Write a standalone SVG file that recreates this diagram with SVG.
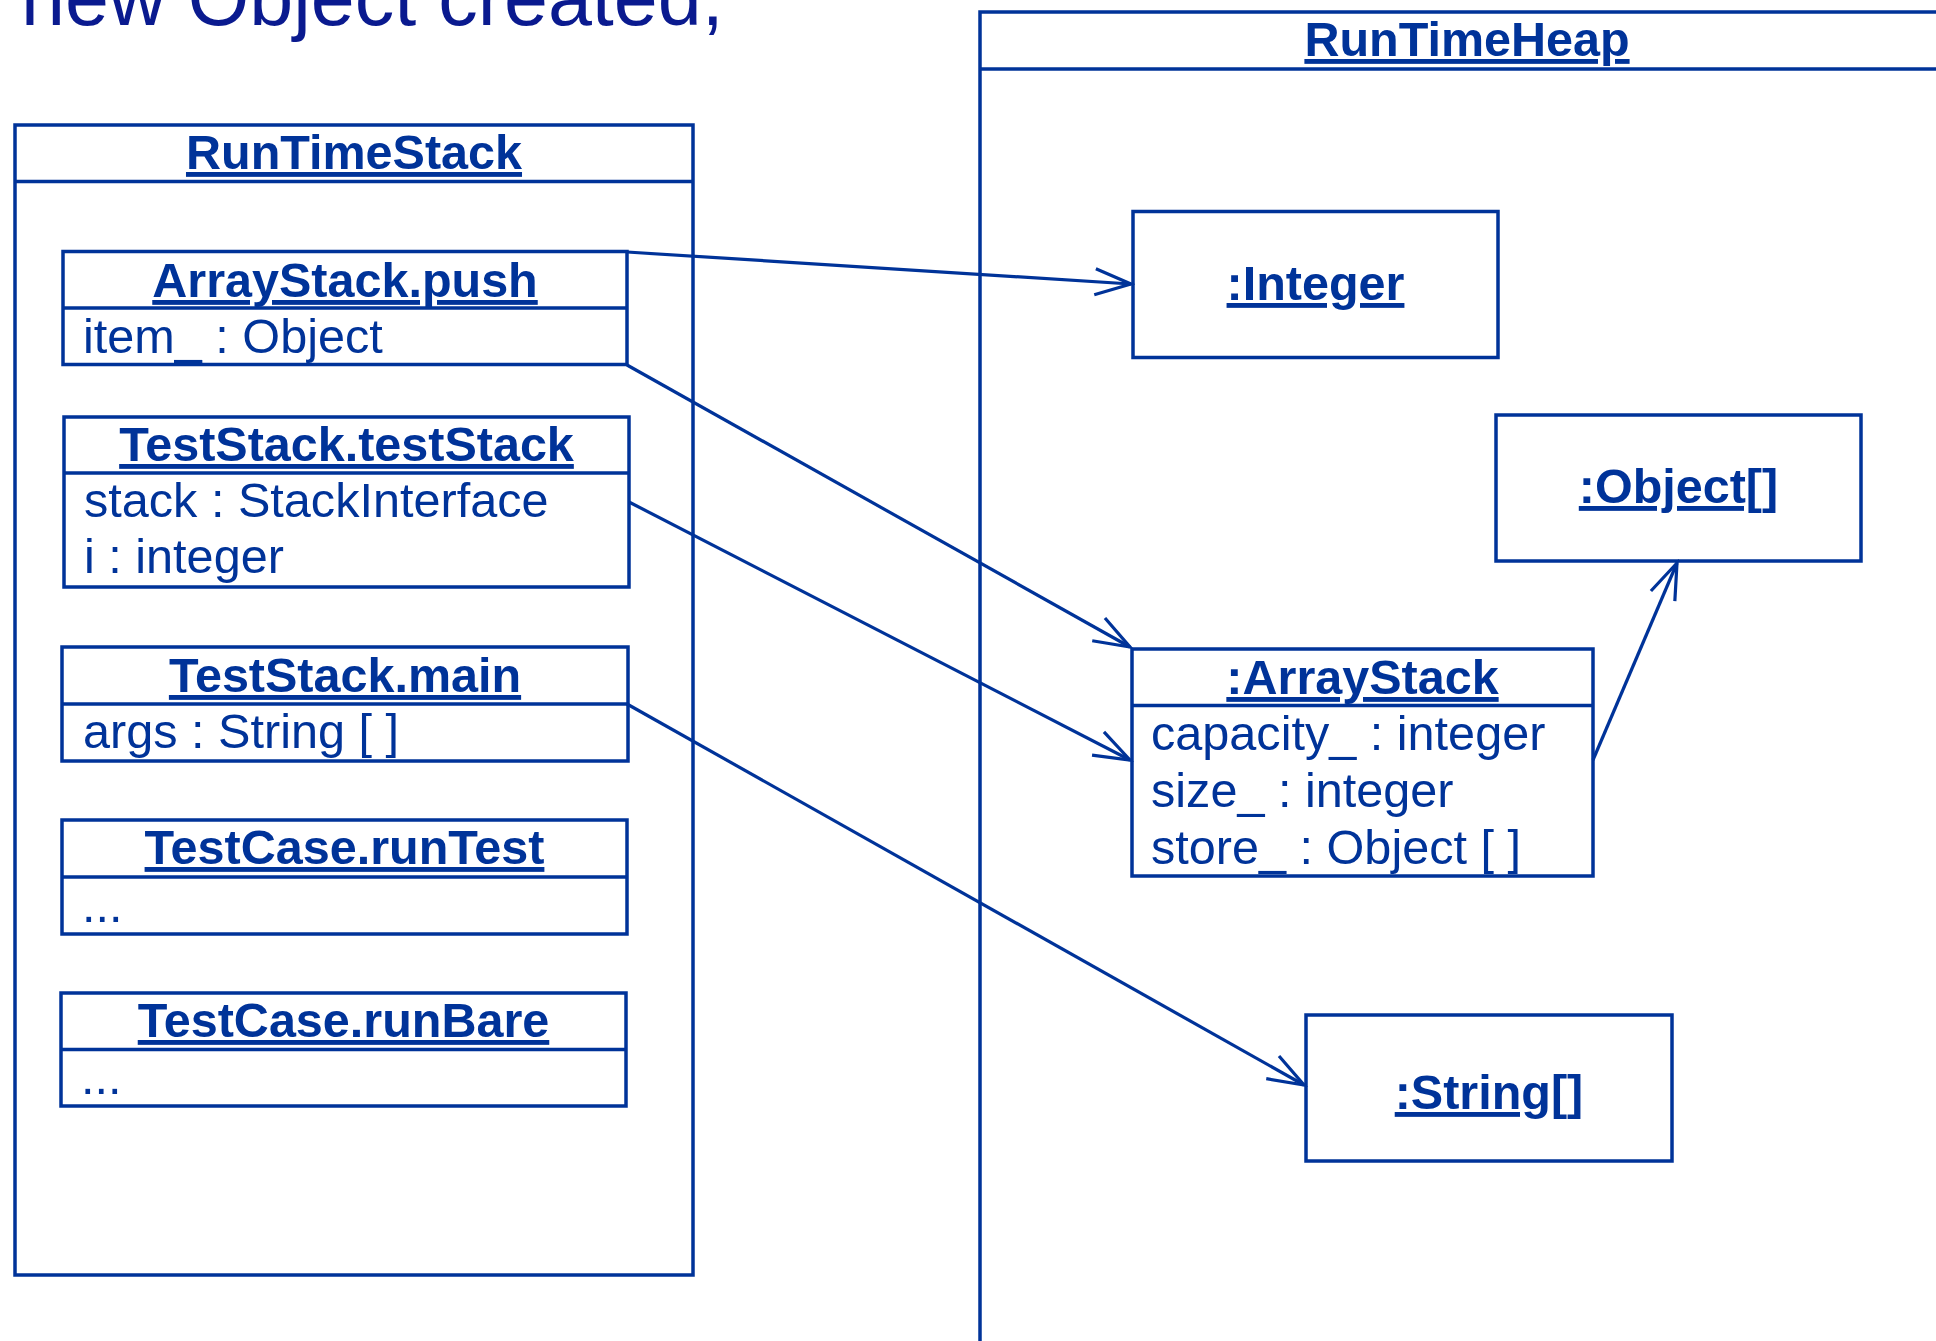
<svg xmlns="http://www.w3.org/2000/svg" width="1936" height="1341" viewBox="0 0 1936 1341">
<style>
.box{fill:#ffffff;stroke:#003399;stroke-width:3.5}
.div{stroke:#003399;stroke-width:3.5}
.ttl{font-family:"Liberation Sans",Arial,sans-serif;font-size:48.5px;font-weight:bold;fill:#003399;text-anchor:middle;text-decoration:underline}
.att{font-family:"Liberation Sans",Arial,sans-serif;font-size:48.6px;fill:#003399}
.hd{font-family:"Liberation Sans",Arial,sans-serif;font-size:79px;fill:#0a1a8f}
.con{fill:none;stroke:#003399;stroke-width:3.2}
</style>
<defs>
<marker id="open" markerUnits="userSpaceOnUse" viewBox="-42 -20 46 40" refX="0" refY="0" markerWidth="46" markerHeight="40" orient="auto">
<path d="M -36 -13 L 0 0 L -36 13" fill="none" stroke="#003399" stroke-width="3.2"/>
</marker>
</defs>
<rect width="1936" height="1341" fill="#ffffff"/>
<text class="hd" x="21" y="25">new Object created,</text>

<g id="RunTimeStack">
<rect class="box" x="15" y="125" width="678" height="1150"/>
<line class="div" x1="15" y1="181.5" x2="693" y2="181.5"/>
<text class="ttl" x="354" y="169">RunTimeStack</text>
</g>

<g id="RunTimeHeap">
<rect class="box" x="980" y="12" width="1000" height="1400"/>
<line class="div" x1="980" y1="69" x2="1980" y2="69"/>
<text class="ttl" x="1467" y="56">RunTimeHeap</text>
</g>

<g id="ArrayStack.push">
<rect class="box" x="63" y="251.5" width="564" height="113"/>
<line class="div" x1="63" y1="308" x2="627" y2="308"/>
<text class="ttl" x="345" y="297">ArrayStack.push</text>
<text class="att" x="83" y="353">item_ : Object</text>
</g>

<g id="TestStack.testStack">
<rect class="box" x="64" y="417" width="565" height="170"/>
<line class="div" x1="64" y1="473" x2="629" y2="473"/>
<text class="ttl" x="346.5" y="461">TestStack.testStack</text>
<text class="att" x="84" y="517">stack : StackInterface</text>
<text class="att" x="84" y="573">i : integer</text>
</g>

<g id="TestStack.main">
<rect class="box" x="62" y="647" width="566" height="114"/>
<line class="div" x1="62" y1="704" x2="628" y2="704"/>
<text class="ttl" x="345" y="692">TestStack.main</text>
<text class="att" x="83" y="748">args : String [ ]</text>
</g>

<g id="TestCase.runTest">
<rect class="box" x="62" y="820" width="565" height="114"/>
<line class="div" x1="62" y1="877" x2="627" y2="877"/>
<text class="ttl" x="344.5" y="864">TestCase.runTest</text>
<text class="att" x="82" y="922">...</text>
</g>

<g id="TestCase.runBare">
<rect class="box" x="61" y="993" width="565" height="113"/>
<line class="div" x1="61" y1="1049.5" x2="626" y2="1049.5"/>
<text class="ttl" x="343.5" y="1037">TestCase.runBare</text>
<text class="att" x="81" y="1094">...</text>
</g>

<g id="Integer">
<rect class="box" x="1133" y="211.5" width="365" height="146"/>
<text class="ttl" x="1315.5" y="300">:Integer</text>
</g>

<g id="ObjectArray">
<rect class="box" x="1496" y="415" width="365" height="146"/>
<text class="ttl" x="1678.5" y="503">:Object[]</text>
</g>

<g id="ArrayStack">
<rect class="box" x="1132" y="649" width="461" height="227"/>
<line class="div" x1="1132" y1="705.5" x2="1593" y2="705.5"/>
<text class="ttl" x="1362.5" y="694">:ArrayStack</text>
<text class="att" x="1151" y="750">capacity_ : integer</text>
<text class="att" x="1151" y="807">size_ : integer</text>
<text class="att" x="1151" y="864">store_ : Object [ ]</text>
</g>

<g id="StringArray">
<rect class="box" x="1306" y="1015" width="366" height="146"/>
<text class="ttl" x="1489" y="1109">:String[]</text>
</g>

<g id="connectors">
<line class="con" x1="627" y1="252" x2="1131" y2="284" marker-end="url(#open)"/>
<line class="con" x1="627" y1="365" x2="1130" y2="647" marker-end="url(#open)"/>
<line class="con" x1="629" y1="502" x2="1130" y2="760" marker-end="url(#open)"/>
<line class="con" x1="627" y1="704" x2="1304" y2="1085" marker-end="url(#open)"/>
<line class="con" x1="1593" y1="760" x2="1677" y2="563" marker-end="url(#open)"/>
</g>
</svg>
